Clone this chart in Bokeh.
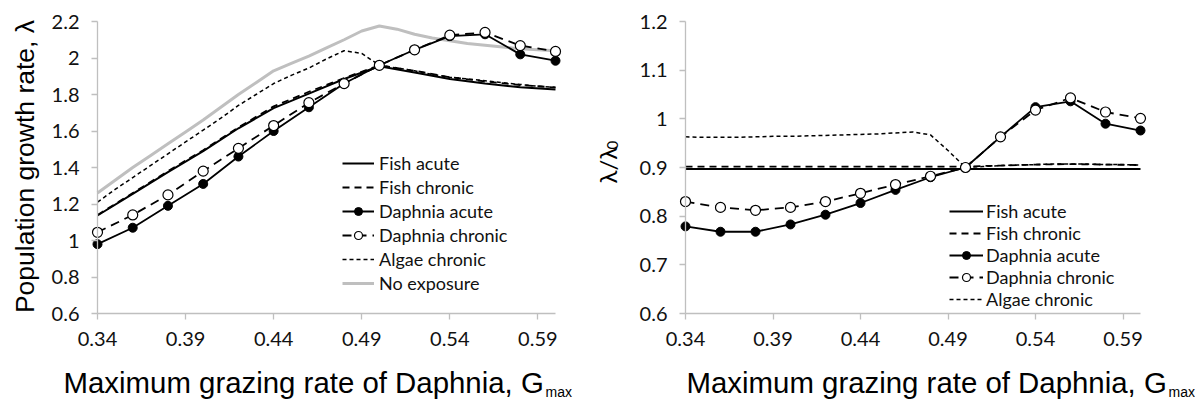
from math import pi

from bokeh.embed import file_html
from bokeh.layouts import row
from bokeh.models import FixedTicker, Label, Legend, LegendItem, Range1d
from bokeh.plotting import figure
from bokeh.resources import INLINE

# Maximum grazing rate of Daphnia (Gmax)
gmax = [0.34, 0.36, 0.38, 0.40, 0.42, 0.44, 0.46, 0.48, 0.50, 0.52, 0.54, 0.56, 0.58, 0.60]
gmax_fine = [0.34, 0.35, 0.36, 0.37, 0.38, 0.39, 0.40, 0.41, 0.42, 0.43, 0.44, 0.45, 0.46,
             0.47, 0.48, 0.49, 0.50, 0.51, 0.52, 0.53, 0.54, 0.55, 0.56, 0.57, 0.58, 0.59, 0.60]

# Population growth rate, lambda
lam_no_exposure = [1.26, 1.33, 1.40, 1.465, 1.53, 1.595, 1.66, 1.73, 1.80, 1.865, 1.93, 1.97, 2.01,
                   2.055, 2.10, 2.148, 2.175, 2.158, 2.13, 2.11, 2.095, 2.08, 2.07, 2.06, 2.05, 2.045, 2.04]
lam_algae_chronic = [1.21, 1.28, 1.345, 1.41, 1.475, 1.54, 1.605, 1.67, 1.74, 1.80, 1.86, 1.905, 1.945,
                     1.995, 2.04, 2.025, 1.96, 1.945, 1.93, 1.91, 1.895, 1.885, 1.875, 1.865, 1.855, 1.845, 1.84]
lam_fish_acute = [1.137, 1.255, 1.375, 1.49, 1.615, 1.725, 1.805, 1.885, 1.955, 1.92, 1.885, 1.86, 1.84, 1.827]
lam_fish_chronic = [1.14, 1.26, 1.38, 1.495, 1.62, 1.735, 1.815, 1.89, 1.96, 1.93, 1.895, 1.872, 1.852, 1.838]
lam_daphnia_acute = [0.98, 1.07, 1.19, 1.31, 1.46, 1.60, 1.73, 1.86, 1.96, 2.045, 2.12, 2.13, 2.02, 1.985]
lam_daphnia_chronic = [1.045, 1.14, 1.25, 1.38, 1.505, 1.63, 1.755, 1.86, 1.96, 2.045, 2.125, 2.14, 2.068, 2.036]

# Relative growth rate, lambda / lambda0
rel_algae_chronic = [0.963, 0.962, 0.962, 0.962, 0.963, 0.964, 0.964, 0.965, 0.966, 0.967, 0.968, 0.969, 0.971,
                     0.973, 0.967, 0.935, 0.90, 0.902, 0.904, 0.905, 0.906, 0.907, 0.907, 0.907, 0.906, 0.906, 0.905]
rel_fish_acute = [0.897, 0.897, 0.897, 0.897, 0.897, 0.897, 0.897, 0.897, 0.897, 0.897, 0.897, 0.897, 0.897, 0.897]
rel_fish_chronic = [0.902, 0.902, 0.902, 0.902, 0.902, 0.902, 0.902, 0.902, 0.902, 0.904, 0.906, 0.907, 0.906, 0.905]
rel_daphnia_acute = [0.779, 0.768, 0.768, 0.783, 0.803, 0.827, 0.854, 0.88, 0.90, 0.963, 1.024, 1.036, 0.99, 0.976]
rel_daphnia_chronic = [0.830, 0.818, 0.812, 0.818, 0.830, 0.847, 0.865, 0.882, 0.90, 0.963, 1.018, 1.043, 1.014, 1.001]

# Axis ticks
x_ticks = [0.34, 0.39, 0.44, 0.49, 0.54, 0.59]
x_tick_labels = ["0.34", "0.39", "0.44", "0.49", "0.54", "0.59"]
lam_ticks = [0.6, 0.8, 1.0, 1.2, 1.4, 1.6, 1.8, 2.0, 2.2]
lam_tick_labels = ["0.6", "0.8", "1", "1.2", "1.4", "1.6", "1.8", "2", "2.2"]
rel_ticks = [0.6, 0.7, 0.8, 0.9, 1.0, 1.1, 1.2]
rel_tick_labels = ["0.6", "0.7", "0.8", "0.9", "1", "1.1", "1.2"]

X_LO, X_HI = 0.34, 0.60
AXIS_GREY = "#bfbfbf"
TICK_FONT = "Lato"
TITLE_FONT = "Liberation Sans"
HEIGHT = 399
PLOT_TOP, PLOT_BOTTOM = 21, 313   # pixel rows of the axis extents


def make_panel(width, plot_left, plot_right, y_lo, y_hi, y_ticks, y_labels):
    """Panel whose plotting frame fills the canvas; axes sit at fixed data positions
    so that titles can be drawn as annotations anywhere on the canvas."""
    ppx = (plot_right - plot_left) / (X_HI - X_LO)
    ppy = (PLOT_BOTTOM - PLOT_TOP) / (y_hi - y_lo)
    x_range = Range1d(X_LO - plot_left / ppx, X_HI + (width - plot_right) / ppx)
    y_range = Range1d(y_lo - (HEIGHT - PLOT_BOTTOM) / ppy, y_hi + PLOT_TOP / ppy)
    p = figure(width=width, height=HEIGHT, output_backend="svg", toolbar_location=None,
               x_range=x_range, y_range=y_range, min_border=0)
    p.outline_line_color = None
    p.xgrid.visible = False
    p.ygrid.visible = False
    p.background_fill_color = "white"
    p.border_fill_color = "white"
    p.xaxis.fixed_location = y_lo
    p.yaxis.fixed_location = X_LO
    p.xaxis.bounds = (X_LO, X_HI)
    p.yaxis.bounds = (y_lo, y_hi)
    for ax in (p.xaxis[0], p.yaxis[0]):
        ax.axis_line_color = AXIS_GREY
        ax.axis_line_width = 1.3
        ax.major_tick_line_color = AXIS_GREY
        ax.major_tick_line_width = 1.3
        ax.major_tick_out = 6
        ax.major_tick_in = 0
        ax.minor_tick_line_color = None
        ax.major_label_text_font = TICK_FONT
        ax.major_label_text_font_size = "20px"
        ax.major_label_text_color = "#111111"
    p.xaxis.ticker = FixedTicker(ticks=x_ticks)
    p.xaxis.major_label_overrides = dict(zip(x_ticks, x_tick_labels))
    p.xaxis.major_label_standoff = 12
    p.yaxis.ticker = FixedTicker(ticks=y_ticks)
    p.yaxis.major_label_overrides = dict(zip(y_ticks, y_labels))
    p.yaxis.major_label_standoff = 12
    return p


def add_x_title(p, left_px):
    # screen units: pixels from the canvas' bottom-left corner
    main = Label(x=left_px, y=17, x_units="screen", y_units="screen",
                 text="Maximum grazing rate of Daphnia, G", text_font=TITLE_FONT,
                 text_font_size="29.4px", text_color="black", text_baseline="alphabetic",
                 text_align="left")
    sub = Label(x=left_px + 482, y=8, x_units="screen", y_units="screen",
                text="max", text_font=TITLE_FONT, text_font_size="14px", text_color="black",
                text_baseline="alphabetic", text_align="left")
    p.add_layout(main)
    p.add_layout(sub)


def style_legend(legend, x, y, spacing, glyph_width, standoff):
    legend.location = (x, y)
    legend.padding = 0
    legend.margin = 0
    legend.spacing = spacing
    legend.glyph_width = glyph_width
    legend.glyph_height = 20
    legend.label_height = 20
    legend.label_standoff = standoff
    legend.label_text_font = TICK_FONT
    legend.label_text_font_size = "18px"
    legend.label_text_color = "#111111"
    legend.border_line_color = None
    legend.background_fill_alpha = 0


# ---------------- left panel: lambda ----------------
left = make_panel(590, 97, 555, 0.6, 2.2, lam_ticks, lam_tick_labels)

r_noexp = left.line(gmax_fine, lam_no_exposure, line_color="#bfbfbf", line_width=3)
r_fa = left.line(gmax, lam_fish_acute, line_color="black", line_width=2)
r_fc = left.line(gmax, lam_fish_chronic, line_color="black", line_width=1.8, line_dash="7 5")
r_alg = left.line(gmax_fine, lam_algae_chronic, line_color="black", line_width=1.5, line_dash="4 3")
r_da_l = left.line(gmax, lam_daphnia_acute, line_color="black", line_width=1.8)
r_dc_l = left.line(gmax, lam_daphnia_chronic, line_color="black", line_width=1.8, line_dash="9 6")
r_da_m = left.scatter(gmax, lam_daphnia_acute, marker="circle", size=9,
                      fill_color="black", line_color="black")
r_dc_m = left.scatter(gmax, lam_daphnia_chronic, marker="circle", size=10,
                      fill_color="white", line_color="black", line_width=1.2)

left_legend = Legend(items=[
    LegendItem(label="Fish acute", renderers=[r_fa]),
    LegendItem(label="Fish chronic", renderers=[r_fc]),
    LegendItem(label="Daphnia acute", renderers=[r_da_l, r_da_m]),
    LegendItem(label="Daphnia chronic", renderers=[r_dc_l, r_dc_m]),
    LegendItem(label="Algae chronic", renderers=[r_alg]),
    LegendItem(label="No exposure", renderers=[r_noexp]),
])
style_legend(left_legend, 342, 105, 2, 32, 5)
left.add_layout(left_legend)

add_x_title(left, 63)
left.add_layout(Label(x=24, y=HEIGHT - 166, x_units="screen", y_units="screen",
                      text="Population growth rate, \u03bb", angle=pi / 2,
                      text_font=TITLE_FONT, text_font_size="26.5px", text_color="black",
                      text_align="center", text_baseline="alphabetic"))

# ---------------- right panel: lambda / lambda0 ----------------
right = make_panel(605, 95, 550, 0.6, 1.2, rel_ticks, rel_tick_labels)

q_fa = right.line(gmax, rel_fish_acute, line_color="black", line_width=2)
q_fc = right.line(gmax, rel_fish_chronic, line_color="black", line_width=1.8, line_dash="7 5")
q_alg = right.line(gmax_fine, rel_algae_chronic, line_color="black", line_width=1.5, line_dash="4 3")
q_da_l = right.line(gmax, rel_daphnia_acute, line_color="black", line_width=1.8)
q_dc_l = right.line(gmax, rel_daphnia_chronic, line_color="black", line_width=1.8, line_dash="9 6")
q_da_m = right.scatter(gmax, rel_daphnia_acute, marker="circle", size=9,
                       fill_color="black", line_color="black")
q_dc_m = right.scatter(gmax, rel_daphnia_chronic, marker="circle", size=10,
                       fill_color="white", line_color="black", line_width=1.2)

right_legend = Legend(items=[
    LegendItem(label="Fish acute", renderers=[q_fa]),
    LegendItem(label="Fish chronic", renderers=[q_fc]),
    LegendItem(label="Daphnia acute", renderers=[q_da_l, q_da_m]),
    LegendItem(label="Daphnia chronic", renderers=[q_dc_l, q_dc_m]),
    LegendItem(label="Algae chronic", renderers=[q_alg]),
])
style_legend(right_legend, 359, 89, 0, 34, 3)
right.add_layout(right_legend)

add_x_title(right, 96)
right.add_layout(Label(x=17, y=HEIGHT - 183, x_units="screen", y_units="screen",
                       text="\u03bb/\u03bb", angle=pi / 2, text_font=TICK_FONT,
                       text_font_size="24px", text_color="black",
                       text_align="left", text_baseline="alphabetic"))
right.add_layout(Label(x=22, y=HEIGHT - 149, x_units="screen", y_units="screen",
                       text="0", angle=pi / 2, text_font=TICK_FONT,
                       text_font_size="15px", text_color="black",
                       text_align="left", text_baseline="alphabetic"))

layout = row(left, right)
open("out.html", "w").write(file_html(layout, INLINE))
